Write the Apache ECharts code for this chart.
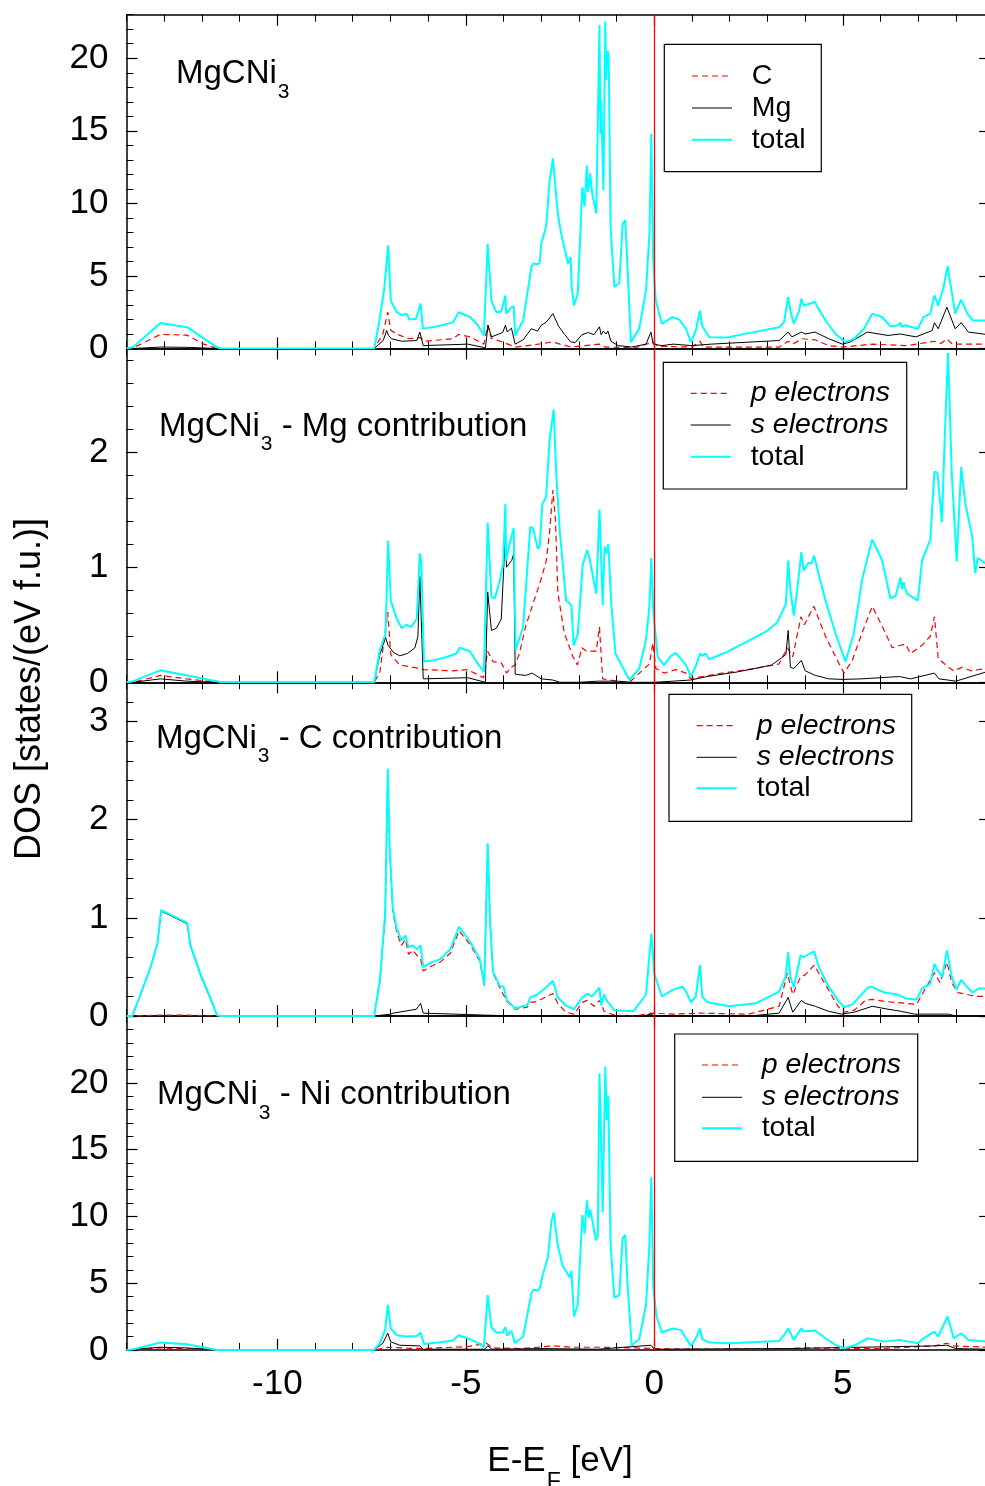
<!DOCTYPE html>
<html>
<head>
<meta charset="utf-8">
<title>MgCNi3 DOS</title>
<script src="https://cdn.jsdelivr.net/npm/echarts@6/dist/echarts.min.js"></script>
<style>
  html, body { margin: 0; padding: 0; background: #fff; }
  #dosChart { width: 985px; height: 1486px; }
</style>
</head>
<body>
<div id="dosChart"></div>
<script>
// energy axis E-EF (eV)
const xMin = -14;
const xMax = 8.8;
const xMajorTicks = [-10, -5, 0, 5];

// panel 1: MgCNi3, [E, DOS]
const dosC = [[-14,0],[-13.82,0.05],[-13.1,0.97],[-12.39,0.92],[-11.95,0.3],[-11.6,0],[-7.43,0],[-7.2,1.0],[-7.07,2.5],[-6.99,1.24],[-6.75,0.9],[-6.5,0.67],[-6.2,0.75],[-6.1,0.5],[-5.34,0.67],[-5.19,0.97],[-4.89,0.8],[-4.52,0.3],[-4.42,1.6],[-4.32,0.7],[-4.02,0.44],[-3.69,0.1],[-3.2,0.25],[-2.69,0.45],[-2.5,0.3],[-2.2,0.1],[-1.455,0.3],[-1.3,0.1],[-0.5,0.05],[-0.04,0.44],[0.1,0.15],[1.0,0.1],[1.21,0.5],[1.3,0.1],[3.31,0.1],[3.55,0.5],[3.67,0.3],[3.92,0.67],[4.26,0.6],[4.63,0.2],[5.0,0.1],[5.78,0.3],[6.7,0.2],[7.43,0.5],[7.6,0.35],[7.76,0.67],[7.9,0.3],[8.8,0.3]];
const dosMg = [[-14,0],[-13.8,0],[-13.1,0.1],[-12.4,0.08],[-11.6,0],[-7.43,0],[-7.19,0.55],[-7.1,1.24],[-7.05,0.9],[-6.97,0.67],[-6.7,0.5],[-6.3,0.55],[-6.22,1.13],[-6.13,0.2],[-4.95,0.3],[-4.48,0.05],[-4.41,1.6],[-4.32,0.8],[-4.02,1.1],[-3.95,1.6],[-3.9,1.15],[-3.79,1.4],[-3.69,0.3],[-3.48,0.6],[-3.26,1.36],[-3.1,1.2],[-3.0,1.6],[-2.87,1.8],[-2.69,2.4],[-2.54,1.54],[-2.38,0.97],[-2.22,0.46],[-2.1,0.4],[-1.92,0.95],[-1.75,1.1],[-1.6,0.95],[-1.455,1.5],[-1.41,0.95],[-1.35,1.2],[-1.28,1.0],[-1.23,1.2],[-1.15,0.5],[-0.96,0.2],[-0.6,0.1],[-0.22,0.3],[-0.09,1.13],[-0.03,0.3],[0.2,0.2],[0.5,0.3],[1.0,0.2],[1.5,0.3],[3.31,0.55],[3.55,1.13],[3.65,0.8],[3.9,1.13],[4.0,1.0],[4.26,1.13],[4.63,0.67],[4.99,0.3],[5.2,0.45],[5.65,1.13],[6.2,0.9],[6.52,1.0],[6.94,0.8],[7.37,1.24],[7.43,1.78],[7.53,1.36],[7.76,2.85],[7.98,1.36],[8.14,1.78],[8.33,1.13],[8.8,0.97]];
const dosTotal = [[-14,0],[-13.82,0.1],[-13.1,1.75],[-12.39,1.47],[-11.61,0.1],[-11.5,0],[-7.43,0],[-7.29,1.93],[-7.16,4.2],[-7.06,7.1],[-6.99,3.3],[-6.83,2.5],[-6.7,2.3],[-6.57,2.4],[-6.5,2.0],[-6.32,2.05],[-6.2,3.1],[-6.14,1.37],[-5.8,1.5],[-5.34,1.8],[-5.19,2.5],[-4.89,2.17],[-4.68,1.6],[-4.52,0.9],[-4.42,7.2],[-4.32,3.3],[-4.19,2.5],[-4.06,2.55],[-3.95,3.66],[-3.93,2.4],[-3.79,2.85],[-3.73,2.9],[-3.69,0.9],[-3.48,1.93],[-3.26,5.6],[-3.21,5.85],[-3.1,5.8],[-3.04,5.9],[-3.0,7.2],[-2.87,8.4],[-2.78,11.5],[-2.69,13.1],[-2.56,9.3],[-2.47,7.9],[-2.29,5.85],[-2.22,6.3],[-2.19,4.2],[-2.13,2.97],[-2.03,3.8],[-1.91,11.1],[-1.85,9.8],[-1.79,12.6],[-1.76,10.8],[-1.7,12.07],[-1.65,10.7],[-1.54,9.3],[-1.5,9.2],[-1.455,22.3],[-1.43,14.8],[-1.41,17.1],[-1.35,10.9],[-1.3,22.55],[-1.28,18.5],[-1.235,20.5],[-1.21,20.0],[-1.16,8.4],[-1.06,4.24],[-0.93,4.5],[-0.84,8.6],[-0.77,8.85],[-0.74,7.2],[-0.62,0.44],[-0.4,1.37],[-0.22,4.0],[-0.13,7.9],[-0.08,14.8],[-0.03,6.1],[0.04,3.3],[0.2,1.7],[0.48,2.16],[0.66,2.0],[0.84,1.36],[0.97,0.44],[1.1,1.24],[1.21,2.6],[1.27,1.55],[1.455,0.78],[1.9,0.75],[3.31,1.47],[3.44,1.8],[3.55,3.55],[3.61,2.6],[3.7,1.7],[3.84,2.6],[3.9,3.43],[3.96,2.96],[4.11,3.08],[4.26,3.2],[4.32,2.9],[4.54,1.93],[4.81,1.0],[5.07,0.44],[5.3,0.67],[5.56,1.36],[5.78,2.4],[6.04,2.17],[6.26,1.52],[6.48,1.6],[6.52,1.8],[6.56,1.5],[6.65,1.6],[6.99,1.36],[7.14,2.16],[7.32,2.4],[7.43,3.66],[7.53,2.96],[7.67,4.2],[7.78,5.67],[7.87,4.2],[7.98,2.4],[8.14,3.37],[8.3,2.4],[8.45,1.93],[8.8,1.93]];

// panel 2: Mg contribution
const mgP = [[-14,0],[-13.82,0],[-13.1,0.06],[-12.4,0.03],[-11.6,0],[-7.43,0],[-7.28,0.09],[-7.07,0.61],[-6.99,0.24],[-6.75,0.15],[-6.22,0.12],[-6.13,0.11],[-5.34,0.1],[-4.95,0.11],[-4.53,0.04],[-4.42,0.27],[-4.28,0.18],[-4.06,0.17],[-3.92,0.08],[-3.8,0.13],[-3.69,0.15],[-3.58,0.25],[-3.41,0.49],[-3.24,0.66],[-3.01,0.89],[-2.87,1.05],[-2.78,1.3],[-2.69,1.67],[-2.62,1.4],[-2.56,0.78],[-2.39,0.43],[-2.17,0.23],[-2.04,0.15],[-1.92,0.3],[-1.8,0.27],[-1.54,0.27],[-1.455,0.48],[-1.37,0.03],[-1.0,0.01],[-0.66,0],[-0.13,0.16],[-0.04,0.34],[0.04,0.12],[0.26,0.08],[0.57,0.11],[0.84,0.08],[0.97,0.03],[1.27,0.05],[1.8,0.08],[2.69,0.12],[3.31,0.16],[3.53,0.3],[3.67,0.22],[3.89,0.57],[3.98,0.5],[4.23,0.66],[4.54,0.4],[4.81,0.22],[5.03,0.08],[5.25,0.19],[5.51,0.43],[5.78,0.66],[6.04,0.49],[6.31,0.3],[6.5,0.32],[6.67,0.33],[6.79,0.25],[7.1,0.32],[7.32,0.4],[7.43,0.57],[7.53,0.21],[7.76,0.14],[7.94,0.1],[8.16,0.13],[8.4,0.1],[8.8,0.12]];
const mgS = [[-14,0],[-13.82,0],[-13.1,0.03],[-12.4,0.01],[-11.6,0],[-7.43,0],[-7.28,0.24],[-7.13,0.39],[-7.06,0.32],[-6.92,0.26],[-6.75,0.23],[-6.55,0.25],[-6.35,0.3],[-6.27,0.4],[-6.22,0.92],[-6.13,0.03],[-4.95,0.04],[-4.48,0],[-4.42,0.785],[-4.32,0.45],[-4.19,0.47],[-4.06,0.55],[-3.95,1.29],[-3.92,1.0],[-3.78,1.06],[-3.73,1.12],[-3.69,0.07],[-3.41,0.06],[-3.24,0.08],[-3.0,0.03],[-2.7,0.02],[-2.5,0],[-2.0,0],[-1.5,0.01],[-1.0,0.01],[-0.6,0],[0,0],[0.5,0.01],[0.97,0.02],[1.4,0.05],[2.2,0.09],[3.11,0.15],[3.49,0.24],[3.55,0.45],[3.61,0.13],[3.7,0.12],[3.9,0.19],[4.0,0.1],[4.27,0.06],[4.63,0.03],[5.0,0.025],[5.5,0.03],[6.5,0.05],[6.8,0.03],[7.43,0.08],[7.55,0.03],[8.0,0.01],[8.4,0.05],[8.8,0.09]];
const mgTotal = [[-14,0],[-13.82,0.01],[-13.1,0.104],[-12.39,0.06],[-11.6,0.01],[-11.5,0],[-7.43,0],[-7.28,0.28],[-7.13,0.42],[-7.06,1.23],[-6.99,0.71],[-6.83,0.55],[-6.7,0.47],[-6.57,0.5],[-6.45,0.48],[-6.3,0.55],[-6.22,1.12],[-6.18,1.05],[-6.11,0.18],[-5.87,0.19],[-5.51,0.22],[-5.25,0.25],[-5.16,0.3],[-4.89,0.27],[-4.72,0.18],[-4.52,0.09],[-4.42,1.385],[-4.32,0.74],[-4.23,0.73],[-4.1,0.88],[-4.01,1.03],[-3.95,1.55],[-3.93,1.06],[-3.84,1.2],[-3.73,1.34],[-3.68,0.28],[-3.48,0.48],[-3.29,1.35],[-3.22,1.34],[-3.09,1.16],[-3.04,1.18],[-2.97,1.55],[-2.87,1.61],[-2.78,2.1],[-2.67,2.37],[-2.6,1.8],[-2.51,1.32],[-2.34,0.71],[-2.2,0.67],[-2.14,0.32],[-2.03,0.42],[-1.9,1.02],[-1.78,1.15],[-1.72,1.08],[-1.63,0.92],[-1.54,0.77],[-1.455,1.5],[-1.37,0.67],[-1.32,1.18],[-1.27,1.12],[-1.22,1.2],[-1.14,0.67],[-1.03,0.25],[-0.84,0.13],[-0.66,0.02],[-0.4,0.12],[-0.22,0.37],[-0.13,0.66],[-0.08,1.08],[-0.03,0.63],[0.09,0.22],[0.26,0.15],[0.44,0.23],[0.57,0.255],[0.84,0.15],[0.97,0.05],[1.1,0.14],[1.21,0.25],[1.27,0.23],[1.36,0.25],[1.455,0.2],[1.9,0.26],[2.43,0.35],[2.96,0.44],[3.26,0.52],[3.49,0.68],[3.55,1.06],[3.61,0.8],[3.7,0.58],[3.79,0.8],[3.9,1.13],[3.96,0.97],[4.09,1.04],[4.17,1.03],[4.24,1.1],[4.35,0.95],[4.54,0.71],[4.81,0.42],[5.07,0.18],[5.29,0.42],[5.51,0.89],[5.78,1.24],[6.04,1.06],[6.26,0.73],[6.4,0.75],[6.53,0.91],[6.57,0.81],[6.61,0.87],[6.7,0.77],[6.99,0.71],[7.1,1.06],[7.32,1.24],[7.43,1.83],[7.51,1.82],[7.63,1.39],[7.7,2.1],[7.79,2.86],[7.89,1.81],[8.02,1.05],[8.14,1.87],[8.25,1.55],[8.43,1.27],[8.51,0.95],[8.58,1.08],[8.8,1.03]];

// panel 3: C contribution
const cP = [[-14,0],[-13.1,0.01],[-12.4,0.01],[-11.6,0],[-7.43,0],[-7.28,0.35],[-7.14,1.0],[-7.07,2.45],[-7.02,1.68],[-6.94,1.08],[-6.83,0.85],[-6.71,0.72],[-6.6,0.78],[-6.52,0.63],[-6.4,0.67],[-6.3,0.62],[-6.2,0.58],[-6.13,0.46],[-5.9,0.51],[-5.68,0.55],[-5.41,0.64],[-5.18,0.87],[-4.89,0.73],[-4.63,0.56],[-4.51,0.31],[-4.42,1.74],[-4.36,0.98],[-4.28,0.44],[-4.1,0.29],[-3.91,0.15],[-3.69,0.07],[-3.37,0.09],[-3.29,0.14],[-3.1,0.15],[-2.85,0.2],[-2.69,0.23],[-2.56,0.13],[-2.35,0.04],[-2.13,0.02],[-1.91,0.14],[-1.78,0.16],[-1.6,0.1],[-1.455,0.16],[-1.33,0.05],[-1.06,0.01],[-0.5,0],[-0.08,0.03],[0.5,0.02],[1.21,0.03],[2.5,0.02],[3.31,0.1],[3.53,0.44],[3.67,0.22],[3.88,0.4],[4.0,0.42],[4.24,0.52],[4.54,0.32],[4.87,0.1],[5.04,0.04],[5.3,0.06],[5.6,0.16],[5.78,0.17],[6.1,0.15],[6.67,0.13],[6.96,0.12],[7.1,0.22],[7.43,0.44],[7.58,0.34],[7.76,0.55],[7.89,0.34],[8.05,0.24],[8.3,0.22],[8.51,0.2],[8.8,0.2]];
const cS = [[-14,0],[-13.85,0],[-13.62,0.23],[-13.36,0.5],[-13.18,0.74],[-13.08,1.07],[-12.39,0.94],[-12.3,0.71],[-12.04,0.42],[-11.78,0.18],[-11.6,0.01],[-11.5,0],[-7.43,0],[-7.0,0.02],[-6.93,0.03],[-6.31,0.07],[-6.2,0.13],[-6.13,0.03],[-5.3,0.02],[-4.5,0.01],[-3.5,0],[-1.0,0],[-0.3,0],[-0.09,0.02],[0,0],[2.5,0],[3.31,0.03],[3.55,0.19],[3.67,0.04],[3.9,0.16],[4.0,0.13],[4.27,0.1],[4.61,0.05],[4.97,0.02],[5.3,0.04],[5.78,0.1],[6.2,0.07],[6.53,0.05],[6.9,0.02],[7.8,0.02],[8.0,0],[8.8,0]];
const cTotal = [[-14,0],[-13.85,0],[-13.62,0.23],[-13.36,0.5],[-13.18,0.74],[-13.08,1.08],[-12.39,0.95],[-12.3,0.72],[-12.04,0.43],[-11.78,0.19],[-11.6,0.01],[-11.5,0],[-7.43,0],[-7.28,0.37],[-7.14,1.04],[-7.07,2.52],[-7.02,1.72],[-6.94,1.11],[-6.83,0.89],[-6.78,0.9],[-6.71,0.77],[-6.6,0.82],[-6.52,0.7],[-6.4,0.72],[-6.3,0.68],[-6.2,0.72],[-6.13,0.5],[-5.9,0.55],[-5.68,0.58],[-5.41,0.68],[-5.18,0.91],[-4.89,0.76],[-4.63,0.58],[-4.51,0.32],[-4.42,1.76],[-4.36,1.0],[-4.28,0.45],[-4.1,0.31],[-4.0,0.3],[-3.91,0.16],[-3.69,0.08],[-3.37,0.11],[-3.29,0.19],[-3.1,0.22],[-2.85,0.3],[-2.69,0.36],[-2.56,0.19],[-2.35,0.11],[-2.13,0.07],[-1.91,0.19],[-1.78,0.23],[-1.65,0.2],[-1.455,0.29],[-1.41,0.11],[-1.33,0.22],[-1.25,0.15],[-1.06,0.06],[-0.55,0.05],[-0.22,0.22],[-0.08,0.84],[0,0.43],[0.2,0.2],[0.5,0.27],[0.75,0.3],[0.87,0.23],[0.97,0.14],[1.1,0.2],[1.21,0.52],[1.27,0.2],[1.41,0.14],[1.99,0.1],[2.69,0.13],[3.31,0.25],[3.48,0.4],[3.55,0.65],[3.61,0.4],[3.7,0.29],[3.88,0.62],[3.96,0.6],[4.1,0.63],[4.24,0.66],[4.35,0.51],[4.61,0.31],[4.87,0.16],[5.04,0.09],[5.26,0.12],[5.66,0.29],[5.75,0.3],[6.1,0.24],[6.45,0.22],[6.5,0.24],[6.67,0.18],[6.96,0.17],[7.1,0.28],[7.32,0.33],[7.43,0.53],[7.52,0.46],[7.64,0.4],[7.76,0.67],[7.89,0.4],[8.02,0.27],[8.14,0.37],[8.29,0.3],[8.43,0.24],[8.6,0.28],[8.8,0.28]];

// panel 4: Ni contribution
const niP = [[-14,0],[-13.1,0.15],[-11.6,0],[-7.43,0],[-7.07,0.2],[-6.5,0.12],[-6.0,0.12],[-4.95,0.25],[-4.45,0.5],[-4.3,0.15],[-3.5,0.1],[-2.69,0.3],[-2.2,0.2],[-1.5,0.2],[-0.5,0.15],[-0.04,0.1],[1.0,0.05],[3.55,0.1],[4.0,0.15],[6.0,0.1],[7.43,0.3],[7.76,0.5],[7.94,0.3],[8.8,0.2]];
const niS = [[-14,0],[-13.1,0.2],[-12.4,0.15],[-11.6,0],[-7.43,0],[-7.2,0.5],[-7.07,1.25],[-6.99,0.6],[-6.75,0.35],[-6.22,0.3],[-6.13,0.05],[-4.5,0.05],[-4.42,0.3],[-4.3,0.05],[-3.0,0.1],[-1.5,0.05],[-0.09,0.35],[0,0.05],[3.55,0.1],[7.43,0.3],[7.76,0.35],[8.0,0.1],[8.8,0.05]];
const niTotal = [[-14,0],[-13.82,0.05],[-13.1,0.55],[-12.39,0.42],[-11.6,0],[-7.43,0],[-7.28,0.5],[-7.14,1.5],[-7.07,3.37],[-6.99,1.6],[-6.83,1.1],[-6.57,1.0],[-6.3,1.05],[-6.2,1.3],[-6.11,0.45],[-5.68,0.57],[-5.34,0.7],[-5.19,1.1],[-4.89,0.8],[-4.63,0.45],[-4.52,0.22],[-4.42,4.1],[-4.32,1.7],[-4.19,1.3],[-4.02,1.3],[-3.95,1.72],[-3.9,1.05],[-3.79,1.45],[-3.7,0.5],[-3.48,1.0],[-3.26,4.24],[-3.2,4.5],[-3.09,4.45],[-3.04,4.6],[-2.97,5.5],[-2.82,7.0],[-2.73,9.6],[-2.67,10.3],[-2.56,7.8],[-2.43,6.3],[-2.25,5.45],[-2.2,5.9],[-2.13,2.5],[-2.03,3.4],[-1.91,10.1],[-1.85,8.7],[-1.79,11.2],[-1.74,9.9],[-1.7,10.5],[-1.63,9.5],[-1.55,8.2],[-1.5,8.5],[-1.455,20.7],[-1.41,15.5],[-1.37,10.3],[-1.3,21.2],[-1.26,17.2],[-1.22,19.0],[-1.16,7.9],[-1.06,3.9],[-0.93,4.1],[-0.84,8.4],[-0.77,8.6],[-0.71,4.9],[-0.6,0.33],[-0.4,0.82],[-0.22,3.4],[-0.13,7.9],[-0.08,12.96],[-0.03,4.7],[0.06,2.5],[0.2,1.3],[0.48,1.6],[0.7,1.5],[0.84,0.87],[0.97,0.3],[1.1,0.87],[1.21,1.6],[1.27,0.8],[1.455,0.55],[2.0,0.5],[3.31,0.67],[3.44,1.1],[3.55,1.6],[3.7,0.75],[3.9,1.62],[3.96,1.37],[4.26,1.45],[4.54,0.87],[4.81,0.37],[5.03,0.12],[5.34,0.37],[5.65,0.87],[6.1,0.62],[6.5,0.75],[6.99,0.5],[7.14,0.87],[7.43,1.37],[7.53,1.0],[7.78,2.5],[7.94,0.87],[8.14,1.25],[8.33,0.75],[8.8,0.62]];

// panel texts and y ranges
const panelTitles = [
  ['MgCNi', '3', ''],
  ['MgCNi', '3', ' - Mg contribution'],
  ['MgCNi', '3', ' - C contribution'],
  ['MgCNi', '3', ' - Ni contribution']
];
const panelNames = [
  ['C', 'Mg', 'total'],
  ['p electrons', 's electrons', 'total'],
  ['p electrons', 's electrons', 'total'],
  ['p electrons', 's electrons', 'total']
];
const panelData = [
  [dosC, dosMg, dosTotal],
  [mgP, mgS, mgTotal],
  [cP, cS, cTotal],
  [niP, niS, niTotal]
];
const panelMax = [23, 2.9, 3.4, 25];
const panelMinor = [1, 0.2, 0.2, 1];
const panelMajor = [5, 1, 1, 5];

const FONT = '"Liberation Sans", Arial, Helvetica, sans-serif';
const GRID_LEFT = 126.5, GRID_W = 859.6, GRID_TOP = 14.7, GRID_H = 333.8;
const titlePos = [[176, 74], [159, 426.5], [156, 738.5], [157, 1095]];
// legend boxes: box rect, sample line start, text start, row centres
const legendBoxes = [
  { x: 664.3, y: 44.3, w: 157, h: 127.4, lineX: 692, textX: 751.7, rows: [76, 108, 139.7] },
  { x: 663.3, y: 362.3, w: 243.4, h: 126.7, lineX: 690.7, textX: 750.7, rows: [393.3, 425, 456.7] },
  { x: 669, y: 694.3, w: 242.7, h: 127, lineX: 696.7, textX: 756.7, rows: [725.7, 757.3, 788.3] },
  { x: 674.7, y: 1034, w: 243, h: 127.3, lineX: 702, textX: 761.7, rows: [1065, 1097.3, 1128.3] }
];
const lineStyles = [
  { color: '#ff0000', width: 1.2, type: [6, 4] },
  { color: '#000000', width: 1, type: 'solid' },
  { color: '#00ffff', width: 2, type: 'solid' }
];
const axisColor = '#000';

const chart = echarts.init(document.getElementById('dosChart'), null, { renderer: 'canvas' });

const grid = [], xAxis = [], yAxis = [], series = [], graphic = [];

function isMult(v, step) {
  const k = v / step;
  return Math.abs(k - Math.round(k)) < 1e-6;
}

function xAx(i, pos, major, labels) {
  return {
    type: 'value', gridIndex: i, position: pos, min: xMin, max: xMax,
    interval: major ? undefined : 1,
    axisLine: { show: !major, onZero: false, lineStyle: { color: axisColor, width: 1.5 } },
    axisTick: major
      ? { show: true, inside: true, length: 11, customValues: xMajorTicks, lineStyle: { color: axisColor, width: 1.2 } }
      : { show: true, inside: true, length: 7, lineStyle: { color: axisColor, width: 1 } },
    axisLabel: labels ? {
      show: true, color: '#000', fontFamily: FONT, fontSize: 35, margin: 17,
      formatter: v => isMult(v, 5) ? String(Math.round(v)) : ''
    } : { show: false },
    splitLine: { show: false }
  };
}

panelData.forEach((data, i) => {
  const max = panelMax[i], minor = panelMinor[i], major = panelMajor[i];
  const majors = [];
  for (let v = 0; v <= max + 1e-9; v += major) majors.push(v);

  grid.push({ left: GRID_LEFT, width: GRID_W, top: GRID_TOP + i * GRID_H, height: GRID_H, containLabel: false, outerBoundsMode: 'none' });

  xAxis.push(xAx(i, 'bottom', false, i === 3));
  xAxis.push(xAx(i, 'bottom', true, false));
  xAxis.push(xAx(i, 'top', false, false));
  xAxis.push(xAx(i, 'top', true, false));

  yAxis.push({
    type: 'value', gridIndex: i, position: 'left', min: 0, max: max, interval: minor,
    axisLine: { show: true, onZero: false, lineStyle: { color: axisColor, width: 1.5 } },
    axisTick: { show: true, inside: true, length: 7, lineStyle: { color: axisColor, width: 1 } },
    axisLabel: {
      color: '#000', fontFamily: FONT, fontSize: 35, margin: 18,
      formatter: v => (isMult(v, major) && v < max - 1e-6) ? String(Math.round(v)) : ''
    },
    splitLine: { show: false }
  });
  yAxis.push({
    type: 'value', gridIndex: i, position: 'left', min: 0, max: max,
    axisLine: { show: false, onZero: false },
    axisTick: { show: true, inside: true, length: 11, customValues: majors, lineStyle: { color: axisColor, width: 1.2 } },
    axisLabel: { show: false }, splitLine: { show: false }
  });
  yAxis.push({
    type: 'value', gridIndex: i, position: 'right', min: 0, max: max,
    axisLine: { show: false, onZero: false },
    axisTick: { show: true, inside: true, length: 7, customValues: majors, lineStyle: { color: axisColor, width: 1.2 } },
    axisLabel: { show: false }, splitLine: { show: false }
  });

  data.forEach((d, k) => {
    const s = {
      name: panelNames[i][k], type: 'line', xAxisIndex: 4 * i, yAxisIndex: 3 * i,
      data: d, symbol: 'none', showSymbol: false, smooth: false, clip: true,
      lineStyle: lineStyles[k], itemStyle: { color: lineStyles[k].color },
      emphasis: { disabled: true }, silent: true, z: 2 + k
    };
    if (k === 2) {
      s.markLine = {
        silent: true, symbol: ['none', 'none'], label: { show: false },
        lineStyle: { color: '#ff0000', width: 1.3, type: 'solid' },
        emphasis: { disabled: true },
        data: [{ xAxis: 0 }]
      };
    }
    series.push(s);
  });

  // legend box drawn as graphics
  const lb = legendBoxes[i];
  const children = [{
    type: 'rect', shape: { x: lb.x, y: lb.y, width: lb.w, height: lb.h },
    style: { fill: '#fff', stroke: '#000', lineWidth: 1.2 }
  }];
  panelNames[i].forEach((n, k) => {
    const ls = lineStyles[k];
    children.push({
      type: 'line', shape: { x1: lb.lineX, y1: lb.rows[k], x2: lb.lineX + 40, y2: lb.rows[k] },
      style: { stroke: ls.color, lineWidth: ls.width, lineDash: Array.isArray(ls.type) ? ls.type : null }
    });
    children.push({
      type: 'text', x: lb.textX, y: lb.rows[k],
      style: {
        text: n, fontFamily: FONT, fontSize: 28.5, fill: '#000',
        fontStyle: n.indexOf('electrons') >= 0 ? 'italic' : 'normal',
        align: 'left', verticalAlign: 'middle'
      }
    });
  });
  graphic.push({ type: 'group', silent: true, z: 100, children: children });

  const t = panelTitles[i];
  graphic.push({
    type: 'text', x: titlePos[i][0], y: titlePos[i][1], silent: true, z: 100,
    style: {
      text: '{a|' + t[0] + '}{s|' + t[1] + '}' + (t[2] ? '{a|' + t[2] + '}' : ''),
      align: 'left', verticalAlign: 'middle', fill: '#000',
      rich: {
        a: { fontFamily: FONT, fontSize: 33, lineHeight: 36, verticalAlign: 'middle', fill: '#000' },
        s: { fontFamily: FONT, fontSize: 21, lineHeight: 21, padding: [36, 0, 0, 1], verticalAlign: 'middle', fill: '#000' }
      }
    }
  });
});

graphic.push({
  type: 'text', x: 30, y: 689, rotation: Math.PI / 2, silent: true,
  style: { text: 'DOS [states/(eV f.u.)]', fontFamily: FONT, fontSize: 36, align: 'center', verticalAlign: 'middle', fill: '#000' }
});
graphic.push({
  type: 'text', x: 560, y: 1461, silent: true,
  style: {
    text: '{a|E-E}{s|F}{a| [eV]}', align: 'center', verticalAlign: 'middle', fill: '#000',
    rich: {
      a: { fontFamily: FONT, fontSize: 35, lineHeight: 38, verticalAlign: 'middle', fill: '#000' },
      s: { fontFamily: FONT, fontSize: 23, lineHeight: 23, padding: [44, 0, 0, 1], verticalAlign: 'middle', fill: '#000' }
    }
  }
});

chart.setOption({
  backgroundColor: '#fff',
  animation: false,
  grid: grid,
  xAxis: xAxis,
  yAxis: yAxis,
  series: series,
  graphic: graphic
});
</script>
</body>
</html>
